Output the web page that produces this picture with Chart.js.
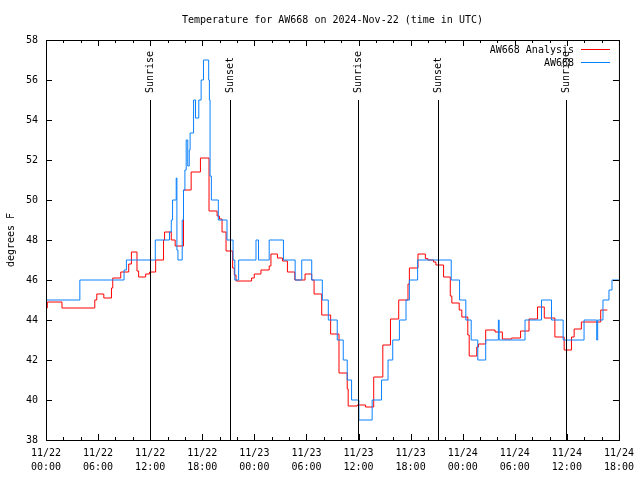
<!DOCTYPE html>
<html>
<head>
<meta charset="utf-8">
<script src="https://cdn.jsdelivr.net/npm/chart.js@4/dist/chart.umd.min.js"></script>
<style>
  html, body { margin: 0; padding: 0; background: #fff; }
  #wrap { width: 640px; height: 480px; }
</style>
</head>
<body>
<div id="wrap"><canvas id="tempChart" width="640" height="480"></canvas></div>
<script>
// hours since 11/22 00:00 UTC where the value changes, and the value from then on
const analysisHours = [0, 0.15, 1.84, 5.62, 5.85, 6.66, 7.54, 7.69, 8.61, 9.53, 9.84, 10.48, 10.67, 11.48, 11.94,
    12.63, 13.54, 13.66, 14.43, 14.88, 15.84, 16.72, 17.79, 18.78, 19.71, 19.97, 20.28, 20.74, 21.50, 21.69, 21.89,
    23.68, 23.99, 24.76, 25.71, 25.91, 26.66, 27.24, 27.81, 28.66, 29.84, 30.61, 30.88, 31.76, 32.79, 33.75, 34.70,
    34.81, 35.85, 36.81, 37.75, 38.80, 39.68, 40.63, 41.70, 41.86, 42.85, 43.70, 43.99, 44.65, 44.91, 45.80, 46.57,
    46.75, 47.60, 47.90, 48.59, 48.75, 49.62, 49.82, 50.65, 51.73, 52.57, 53.64, 54.67, 55.64, 56.62, 57.40, 58.62,
    59.69, 60.53, 60.84, 61.67, 63.90, 64.66];
const analysisTemps = [44.6, 44.9, 44.6, 45.0, 45.3, 45.1, 45.6, 46.1, 46.4, 46.8, 47.4, 46.45, 46.15, 46.3, 46.4,
    47.0, 48.0, 48.4, 48.0, 47.7, 50.5, 51.4, 52.1, 49.45, 49.2, 49.05, 48.4, 47.45, 46.6, 46.25, 45.95,
    46.1, 46.3, 46.5, 46.7, 47.3, 47.1, 46.95, 46.4, 46.0, 46.3, 46.0, 45.3, 44.25, 43.3, 41.35, 40.55,
    39.7, 39.75, 39.65, 41.15, 42.75, 44.05, 45.0, 45.8, 46.6, 47.3, 47.07, 47.0, 46.9, 46.75, 46.15, 45.2,
    44.85, 44.5, 44.15, 43.25, 42.2, 42.65, 42.8, 43.5, 43.4, 43.05, 43.1, 43.45, 44.05, 44.65, 44.1, 43.15,
    42.5, 43.15, 43.55, 43.9, 44.5, 44.5];

const stationHours = [0, 3.90, 8.99, 9.26, 12.59, 14.23, 14.43, 14.58, 15.0, 15.08, 15.2, 15.69, 15.84, 16.0, 16.15,
    16.33, 16.5, 16.6, 17.0, 17.22, 17.6, 17.87, 18.14, 18.74, 18.82, 18.90, 19.05, 19.85, 20.85, 21.55, 21.75,
    22.19, 24.19, 24.48, 25.71, 27.35, 28.70, 29.46, 30.61, 31.83, 32.52, 33.55, 34.24, 34.70, 35.20, 36.04,
    37.57, 38.65, 39.40, 39.94, 40.71, 41.47, 41.86, 42.81, 46.68, 47.64, 48.36, 48.98, 49.74, 50.65, 52.11,
    52.2, 55.18, 57.08, 58.23, 59.57, 61.98, 63.44, 63.55, 64.16, 64.85, 65.20, 66];
const stationTemps = [45, 46, 46.5, 47, 48, 48.4, 49, 50, 51.1, 47.5, 47, 49, 50.5, 51.5, 53,
    51.7, 52.5, 53.35, 55, 54.1, 55, 56, 57, 56, 55, 51.2, 50, 49, 48, 47, 46,
    47, 48, 47, 48, 47, 46, 47, 46, 45, 44, 43, 42, 41, 40, 39,
    40, 41, 42, 43, 44, 45, 46, 47, 46, 45, 44, 43, 42, 43, 44,
    43, 44, 45, 44, 43, 44, 43, 44, 45, 45.5, 46, 46];

const sunHours = [11.93, 21.22, 35.93, 45.13, 59.93];
const sunLabels = ['Sunrise', 'Sunset', 'Sunrise', 'Sunset', 'Sunrise'];

const xTickLabels = [['11/22', '00:00'], ['11/22', '06:00'], ['11/22', '12:00'], ['11/22', '18:00'],
    ['11/23', '00:00'], ['11/23', '06:00'], ['11/23', '12:00'], ['11/23', '18:00'],
    ['11/24', '00:00'], ['11/24', '06:00'], ['11/24', '12:00'], ['11/24', '18:00']];

const seriesNames = ['AW668 Analysis', 'AW668'];
const seriesColors = ['#ff0000', '#0a80ff'];
const FONT = '"DejaVu Sans Mono", "Liberation Mono", monospace';

function toPoints(hours, temps) {
    return hours.map((h, i) => ({ x: h, y: temps[i] }));
}

// gnuplot-like frame, inward ticks, sunrise/sunset markers, title and legend
const gnuplotDecor = {
    id: 'gnuplotDecor',
    afterDatasetsDraw(chart) {
        const { ctx, chartArea: a, scales: { x, y } } = chart;
        ctx.save();
        ctx.fillStyle = '#000';
        ctx.strokeStyle = '#000';
        ctx.lineWidth = 1;
        ctx.font = '10px ' + FONT;

        // sunrise / sunset lines
        sunHours.forEach((h, i) => {
            const px = Math.round(x.getPixelForValue(h)) + 0.5;
            ctx.beginPath();
            ctx.moveTo(px, 100);
            ctx.lineTo(px, a.bottom);
            ctx.stroke();
            ctx.save();
            ctx.translate(px, 93);
            ctx.rotate(-Math.PI / 2);
            ctx.textAlign = 'left';
            ctx.textBaseline = 'middle';
            ctx.fillText(sunLabels[i], 0, 0);
            ctx.restore();
        });

        // frame
        ctx.strokeRect(a.left + 0.5, a.top + 0.5, a.right - a.left, a.bottom - a.top);

        // y ticks, both sides
        y.ticks.forEach(t => {
            const py = Math.round(y.getPixelForValue(t.value)) + 0.5;
            ctx.beginPath();
            ctx.moveTo(a.left, py); ctx.lineTo(a.left + 6, py);
            ctx.moveTo(a.right, py); ctx.lineTo(a.right - 6, py);
            ctx.stroke();
        });

        // x ticks every 2h, major every 6h, top and bottom
        for (let h = 0; h <= 66; h += 2) {
            const px = Math.round(x.getPixelForValue(h)) + 0.5;
            const len = h % 6 === 0 ? 6 : 3;
            ctx.beginPath();
            ctx.moveTo(px, a.bottom); ctx.lineTo(px, a.bottom - len);
            ctx.moveTo(px, a.top); ctx.lineTo(px, a.top + len);
            ctx.stroke();
        }

        // title
        ctx.textAlign = 'center';
        ctx.textBaseline = 'middle';
        ctx.fillText('Temperature for AW668 on 2024-Nov-22 (time in UTC)', (a.left + a.right) / 2, 20);

        // y axis title
        ctx.save();
        ctx.translate(11, (a.top + a.bottom) / 2);
        ctx.rotate(-Math.PI / 2);
        ctx.fillText('degrees F', 0, 0);
        ctx.restore();

        // legend
        ctx.textAlign = 'right';
        seriesNames.forEach((name, i) => {
            const ly = 50 + i * 13;
            ctx.fillStyle = '#000';
            ctx.fillText(name, 574, ly);
            ctx.strokeStyle = seriesColors[i];
            ctx.beginPath();
            ctx.moveTo(581, Math.round(ly) - 0.5);
            ctx.lineTo(610, Math.round(ly) - 0.5);
            ctx.stroke();
        });
        ctx.restore();
    }
};

document.addEventListener('DOMContentLoaded', () => {
    const ctx = document.getElementById('tempChart').getContext('2d');
    new Chart(ctx, {
        type: 'line',
        data: {
            datasets: [{
                label: seriesNames[0],
                data: toPoints(analysisHours, analysisTemps),
                borderColor: seriesColors[0],
                borderWidth: 1,
                pointRadius: 0,
                stepped: true,
                fill: false,
                order: 2
            }, {
                label: seriesNames[1],
                data: toPoints(stationHours, stationTemps),
                borderColor: seriesColors[1],
                borderWidth: 1,
                pointRadius: 0,
                stepped: true,
                fill: false,
                order: 1
            }]
        },
        options: {
            responsive: false,
            animation: false,
            devicePixelRatio: 1,
            layout: { padding: { top: 40, right: 19, left: 0, bottom: 0 } },
            scales: {
                x: {
                    type: 'linear',
                    min: 0,
                    max: 66,
                    afterFit: s => { s.height = 40; },
                    grid: { display: false, drawTicks: false },
                    border: { display: false },
                    ticks: {
                        stepSize: 6,
                        autoSkip: false,
                        maxRotation: 0,
                        minRotation: 0,
                        padding: 6,
                        color: '#000',
                        font: { family: FONT, size: 10, lineHeight: 1.4 },
                        callback: v => xTickLabels[Math.round(v / 6)]
                    }
                },
                y: {
                    min: 38,
                    max: 58,
                    afterFit: s => { s.width = 46; },
                    grid: { display: false, drawTicks: false },
                    border: { display: false },
                    ticks: {
                        stepSize: 2,
                        padding: 8,
                        color: '#000',
                        font: { family: FONT, size: 10 }
                    }
                }
            },
            plugins: {
                legend: { display: false },
                title: { display: false },
                tooltip: { enabled: false }
            }
        },
        plugins: [gnuplotDecor]
    });
});
</script>
</body>
</html>
